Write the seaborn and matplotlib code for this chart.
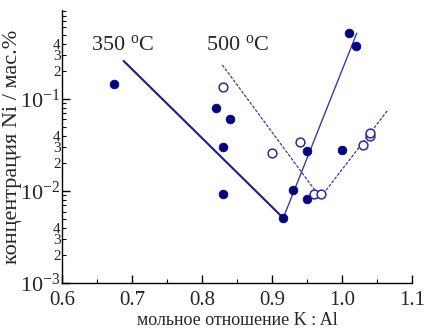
import matplotlib
matplotlib.use("Agg")
import matplotlib.pyplot as plt
import seaborn as sns
import pandas as pd

# points
filled_x = [0.675, 0.82, 0.84, 0.83, 0.83, 0.916, 0.93, 0.95, 0.95, 1.0, 1.01, 1.02]
filled_y = [0.145, 0.079, 0.060, 0.030, 0.0093, 0.0051, 0.0103, 0.027, 0.0083, 0.028, 0.52, 0.38]

open_x = [0.83, 0.90, 0.94, 0.96, 0.97, 1.03, 1.04, 1.04]
open_y = [0.136, 0.026, 0.034, 0.0092, 0.0093, 0.032, 0.040, 0.043]

# trend lines
line350_x = [0.688, 0.916]
line350_y = [0.26, 0.0051]
line350_up_x = [0.916, 1.021]
line350_up_y = [0.0051, 0.52]
line500_x = [0.829, 0.969]
line500_y = [0.235, 0.0085]
line500_up_x = [0.969, 1.066]
line500_up_y = [0.0085, 0.077]

x_ticks = [0.6, 0.7, 0.8, 0.9, 1.0, 1.1]
x_labels = ["0.6", "0.7", "0.8", "0.9", "1.0", "1.1"]
y_major = [1e-3, 1e-2, 1e-1]
y_major_labels = ["$10^{-3}$", "$10^{-2}$", "$10^{-1}$"]


def make_plot():
    sns.set_style("ticks")
    plt.rcParams["font.family"] = ["Liberation Serif", "DejaVu Serif"]
    plt.rcParams["mathtext.fontset"] = "custom"
    plt.rcParams["mathtext.rm"] = "Liberation Serif"
    plt.rcParams["mathtext.it"] = "Liberation Serif:italic"

    fig = plt.figure(figsize=(4.24, 3.30), dpi=100)
    ax = fig.add_axes([0.146, 0.142, 0.826, 0.828])

    navy = "#000080"
    blue = "#3a3aa8"

    sns.lineplot(x=line350_x, y=line350_y, ax=ax, color="#1c1c88", linewidth=1.5)
    sns.lineplot(x=line350_up_x, y=line350_up_y, ax=ax, color=blue, linewidth=1.0)
    sns.lineplot(x=line500_x, y=line500_y, ax=ax, color=blue, linewidth=0.9,
                 linestyle=(0, (2.5, 1.2)))
    sns.lineplot(x=line500_up_x, y=line500_up_y, ax=ax, color=blue, linewidth=0.9,
                 linestyle=(0, (2.5, 1.2)))

    df_f = pd.DataFrame({"x": filled_x, "y": filled_y})
    df_o = pd.DataFrame({"x": open_x, "y": open_y})
    sns.scatterplot(data=df_f, x="x", y="y", ax=ax, color=navy, s=40,
                    edgecolor=navy, linewidth=0.5, zorder=3)
    sns.scatterplot(data=df_o, x="x", y="y", ax=ax, facecolor="white", s=40,
                    edgecolor="#2a2aa0", linewidth=1.1, zorder=3)

    ax.set_yscale("log")
    ax.set_xlim(0.6, 1.1)
    ax.set_ylim(1e-3, 0.93)

    ax.set_xticks(x_ticks, x_labels)
    ax.set_xticks([0.65, 0.75, 0.85, 0.95, 1.05], minor=True)

    minors = []
    minor_labels = []
    for e in [1e-3, 1e-2, 1e-1]:
        for k in range(2, 10):
            if k * e < 0.93:
                minors.append(k * e)
                minor_labels.append(str(k) if k <= 4 else "")
    ax.set_yticks(y_major, y_major_labels)
    ax.set_yticks(minors, minor_labels, minor=True)

    ax.tick_params(axis="both", which="major", direction="in", length=6,
                   width=1, labelsize=16, color="black")
    ax.tick_params(axis="x", which="major", labelsize=15, pad=6)
    ax.tick_params(axis="both", which="minor", direction="in", length=3,
                   width=0.8, color="black")
    ax.tick_params(axis="y", which="minor", labelsize=11, pad=1)
    ax.tick_params(axis="y", which="major", pad=1)

    for s in ["top", "right"]:
        ax.spines[s].set_visible(False)
    for s in ["left", "bottom"]:
        ax.spines[s].set_color("black")
        ax.spines[s].set_linewidth(1)

    ax.set_xlabel("мольное отношение K : Al", fontsize=13, labelpad=1)
    ax.set_ylabel("концентрация Ni / мас.%", fontsize=16, labelpad=-1)

    ax.text(0.687, 0.39, "350 $^{\\mathrm{o}}$C", fontsize=16, ha="center", va="center")
    ax.text(0.851, 0.39, "500 $^{\\mathrm{o}}$C", fontsize=16, ha="center", va="center")

    fig.savefig("out.png", dpi=100)
    plt.close(fig)


if __name__ == "__main__":
    make_plot()
